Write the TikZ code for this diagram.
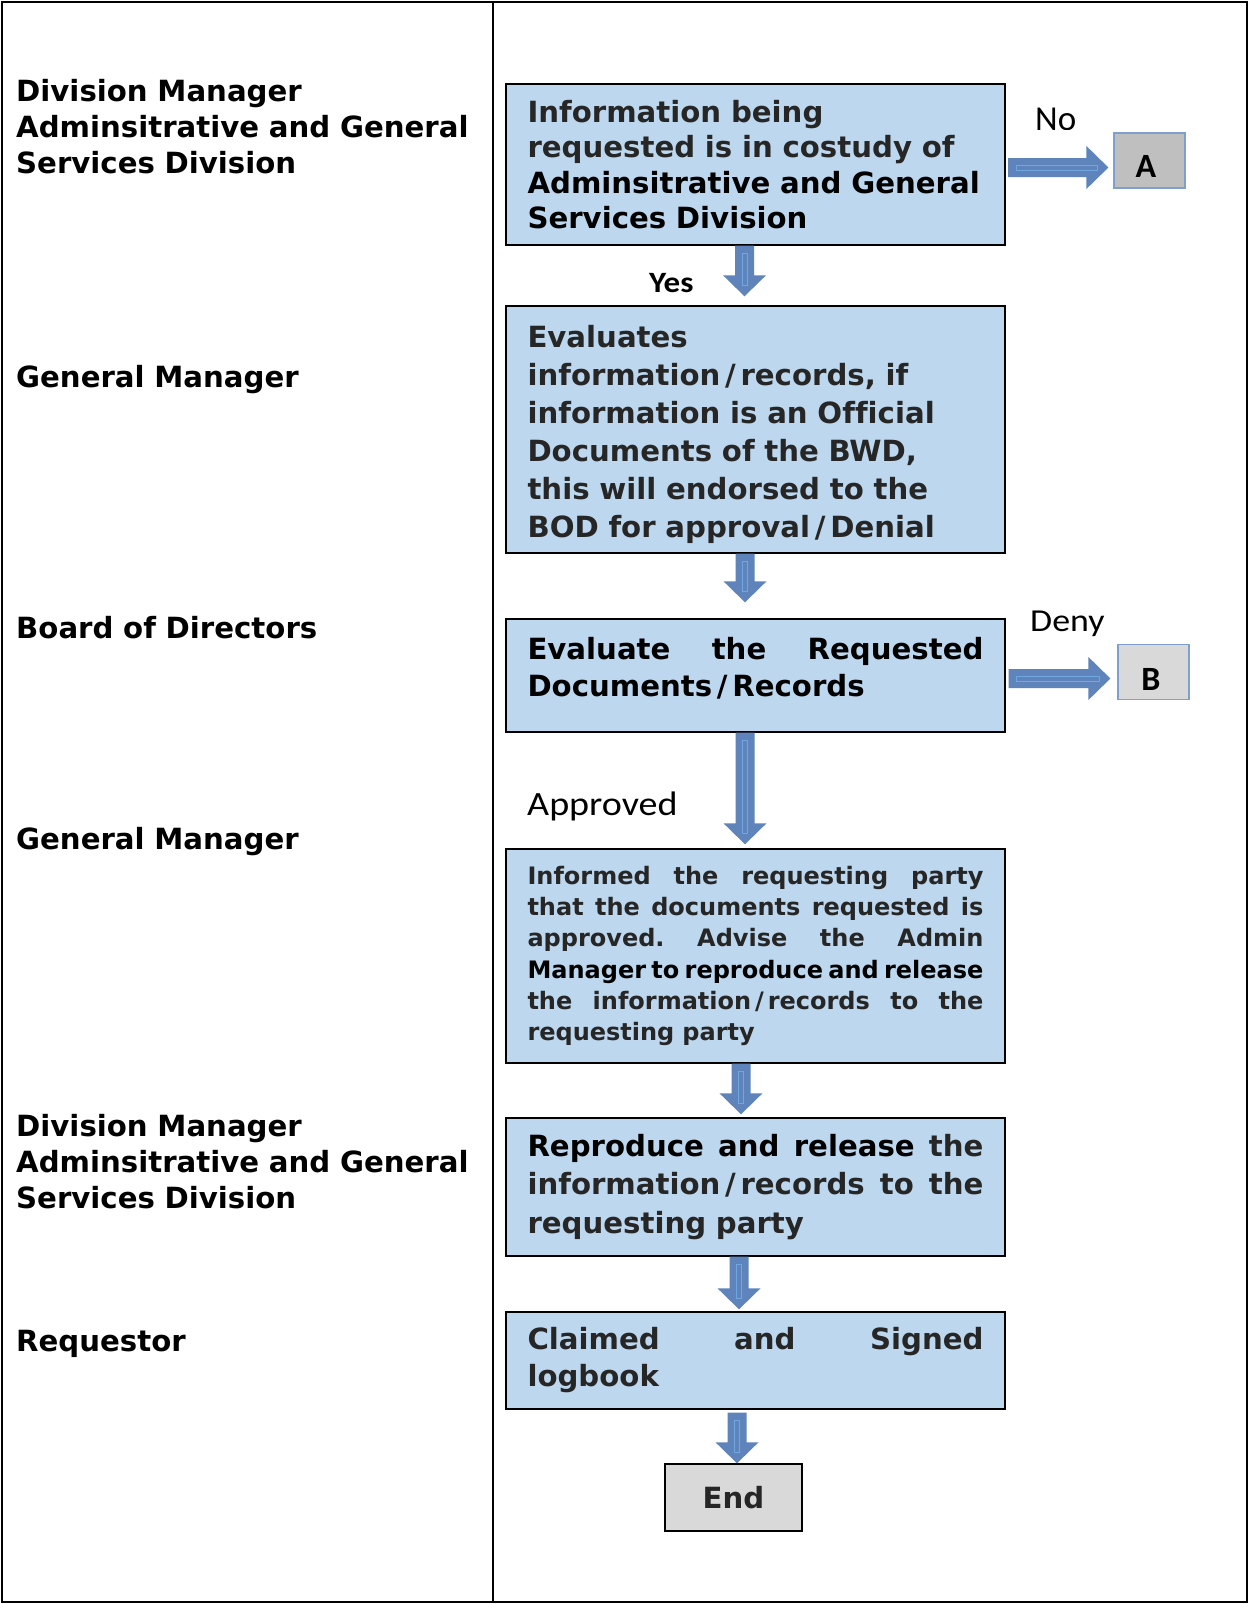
\documentclass[tikz,border=0pt]{standalone}
\usepackage{fontspec}
\setmainfont[Ligatures=NoCommon]{DejaVu Sans}
\newfontfamily\calfont{Carlito}
\newfontfamily\calwide[FakeStretch=1.12]{Carlito}
\usetikzlibrary{calc}
\definecolor{boxblue}{HTML}{BDD7EE}
\definecolor{arrowblue}{HTML}{5E84BB}
\definecolor{arrowline}{HTML}{6FA8E0}
\definecolor{txtgray}{HTML}{262626}
\definecolor{graya}{HTML}{BFBFBF}
\definecolor{grayb}{HTML}{D9D9D9}
\definecolor{lblue}{HTML}{7F9FCF}
\newcommand\jl[1]{\leavevmode\hbox to 456pt{#1}}
\newcommand\wsl{\hbox to 0.69em{\hss/\hss}}
\tikzset{
 varrow/.style={fill=arrowblue, to path={let \p1=(\tikztostart), \p2=(\tikztotarget) in
   (\x1-9.5pt,\y1) -- (\x1-9.5pt,\y2+21pt) -- (\x1-21.5pt,\y2+21pt) -- (\x1,\y2) --
   (\x1+21.5pt,\y2+21pt) -- (\x1+9.5pt,\y2+21pt) -- (\x1+9.5pt,\y1) -- cycle}},
 varrowin/.style={draw=arrowline, line width=0.9pt, to path={let \p1=(\tikztostart), \p2=(\tikztotarget) in
   (\x1-2.5pt,\y1-8pt) rectangle (\x1+2.5pt,\y2+11pt)}},
 harrow/.style={fill=arrowblue, to path={let \p1=(\tikztostart), \p2=(\tikztotarget) in
   (\x1,\y1+9.5pt) -- (\x2-22pt,\y1+9.5pt) -- (\x2-22pt,\y1+21.5pt) -- (\x2,\y1) --
   (\x2-22pt,\y1-21.5pt) -- (\x2-22pt,\y1-9.5pt) -- (\x1,\y1-9.5pt) -- cycle}},
 harrowin/.style={draw=arrowline, line width=0.9pt, to path={let \p1=(\tikztostart), \p2=(\tikztotarget) in
   (\x1+8pt,\y1+2.5pt) rectangle (\x2-11pt,\y1-2.5pt)}},
}
\newcommand\varr[2]{\path[varrow] #1 to #2; \path[varrowin] #1 to #2;}
\newcommand\harr[2]{\path[harrow] #1 to #2; \path[harrowin] #1 to #2;}
\begin{document}
\begin{tikzpicture}[x=1pt,y=-1pt,
  box/.style={draw=black, line width=1.4pt, fill=boxblue, minimum width=499pt,
    text width=456pt, inner xsep=21.5pt, inner ysep=0pt, align=left, text=txtgray},
  big/.style={font=\bfseries\fontsize{29.2}{#1}\selectfont},
  lab/.style={anchor=base west, inner sep=0pt, text width=470pt, align=left,
    font=\bfseries\fontsize{29.2}{36.3}\selectfont},
  cal/.style={anchor=base west, inner sep=0pt, font=\calwide\fontsize{34}{40}\selectfont},
  tag/.style={line width=1.2pt, draw=lblue, minimum width=71pt, minimum height=55pt,
    inner sep=0pt, font=\calfont\bfseries\fontsize{34}{36}\selectfont}]
\useasboundingbox (0,0) rectangle (1249,1604);
\fill[white] (0,0) rectangle (1249,1604);
\draw[line width=2.5pt] (2,2) rectangle (1247,1602);
\draw[line width=2.5pt] (493,2) -- (493,1602);

% lane labels
\node[lab] (l1) at (16,101) {Division Manager\\Adminsitrative and General\\Services Division};
\node[lab] (l2) at (16,387) {General Manager};
\node[lab] (l3) at (16,638) {Board of Directors};
\node[lab] (l4) at (16,849) {General Manager};
\node[lab] (l5) at (16,1136) {Division Manager\\Adminsitrative and General\\Services Division};
\node[lab] (l6) at (16,1351) {Requestor};

% process boxes
\node[box, big=38.1, minimum height=247pt] (b2) at (755.5,429.5)
  {Evaluates\\information\wsl records, if\\information is an Official\\Documents of the BWD,\\this will endorsed to the\\BOD for approval\wsl Denial\par\vspace*{-10pt}};
\node[box, big=35.5, minimum height=161pt] (b1) at (755.5,164.5)
  {Information being\\requested is in costudy of\\\textcolor{black}{Adminsitrative and General}\\\textcolor{black}{Services Division}};
\node[box, big=37.5, minimum height=113pt, text=black] (b3) at (755.5,675.5)
  {\jl{Evaluate\hfill the\hfill Requested}\\Documents\wsl Records\par\vspace*{14pt}};
\node[box, font=\bfseries\fontsize{24}{31.2}\selectfont, minimum height=214pt] (b4) at (755.5,956)
  {\jl{Informed\hfill the\hfill requesting\hfill party}\\
   \jl{that\hfill the\hfill documents\hfill requested\hfill is}\\
   \jl{approved.\hfill Advise\hfill the\hfill Admin}\\
   \textcolor{black}{\jl{Manager\hfill to\hfill reproduce\hfill and\hfill release}}\\
   \jl{the\hfill information\wsl records\hfill to\hfill the}\\
   requesting party};
\node[box, big=38.4, minimum height=138pt] (b5) at (755.5,1187)
  {\jl{\textcolor{black}{Reproduce}\hfill\textcolor{black}{and}\hfill\textcolor{black}{release}\hfill the}\\
   \jl{information\wsl records\hfill to\hfill the}\\
   requesting party};
\node[box, big=37, minimum height=97pt] (b6) at (755.5,1360.5)
  {\jl{Claimed\hfill and\hfill Signed}\\logbook};
\node[draw=black, line width=1.4pt, fill=grayb, minimum width=137pt, minimum height=67pt,
  inner sep=0pt, text=txtgray, font=\bfseries\fontsize{29.2}{34}\selectfont] (end) at (733.5,1497.5) {End};

% connector targets
\node[tag, fill=graya] (A) at (1149.5,160.5) {\raisebox{-16.5pt}[0pt][0pt]{\makebox[0pt]{\kern-7pt A}}};
\node[tag, fill=grayb] (B) at (1153.5,672) {\raisebox{-18pt}[0pt][0pt]{\makebox[0pt]{\kern-5pt B}}};

% arrows
\varr{($(b1.south)+(-11,0)$)}{($(b2.north)+(-11,-9)$)}
\varr{($(b2.south)+(-10.5,0)$)}{($(b3.north)+(-10.5,-16)$)}
\varr{($(b3.south)+(-10.5,0)$)}{($(b4.north)+(-10.5,-4)$)}
\varr{($(b4.south)+(-14.5,0)$)}{($(b5.north)+(-14.5,-3)$)}
\varr{($(b5.south)+(-16.5,0)$)}{($(b6.north)+(-16.5,-2)$)}
\varr{($(b6.south)+(-18.5,3)$)}{($(end.north)+(-15,0)$)}
\harr{($(b1.east)+(2.5,3)$)}{($(A.west)+(-5,0)$)}
\harr{($(b3.east)+(3,3)$)}{($(B.west)+(-7,0)$)}

% branch labels
\begin{scope}
\clip (1000,90) rectangle (1110,129);
\node[anchor=base west, inner sep=0pt, font=\calfont\fontsize{35}{40}\selectfont] (tno) at (1035,130) {No};
\end{scope}
\node[cal, font=\calwide\fontsize{32}{38}\selectfont] (tdeny) at (1030,631) {Deny};
\node[cal] (tapp) at (527,815) {Approved};
\node[anchor=base west, inner sep=0pt, font=\calwide\bfseries\fontsize{29.5}{34}\selectfont] (tyes) at (649,292) {Yes};
\end{tikzpicture}
\end{document}
